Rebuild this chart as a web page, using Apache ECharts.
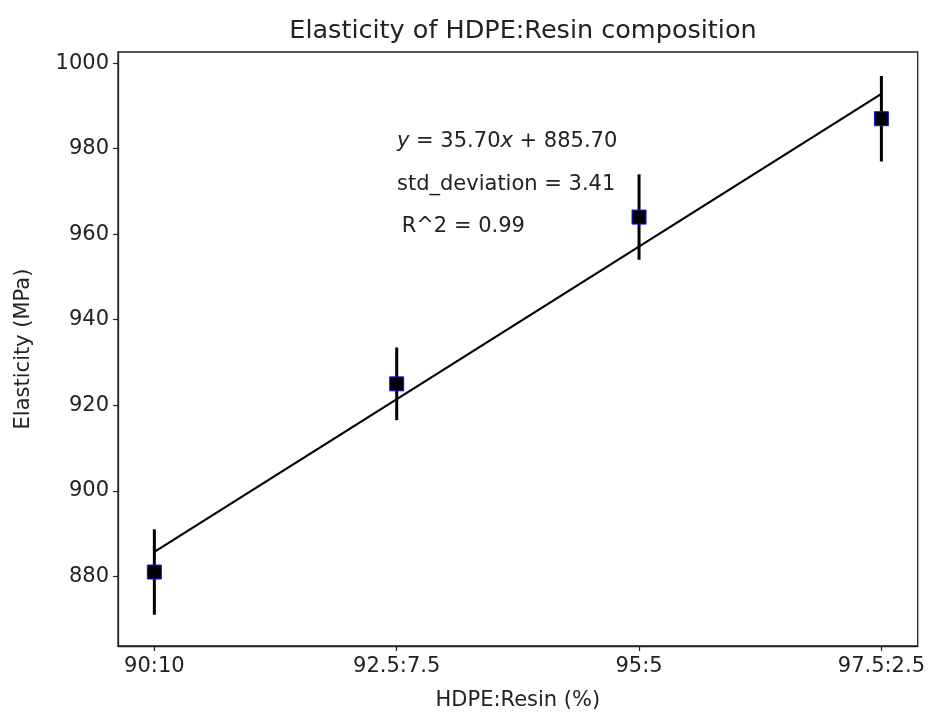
<!DOCTYPE html>
<html>
<head>
<meta charset="utf-8">
<script src="https://cdn.jsdelivr.net/npm/echarts@6/dist/echarts.min.js"></script>
<style>
html,body{margin:0;padding:0;background:#fff;}
#chart{width:928px;height:716px;}
</style>
</head>
<body>
<div id="chart"></div>
<script>
// ---- data ----
const categories = ['90:10', '92.5:7.5', '95:5', '97.5:2.5'];
const elasticity = [881, 925, 964, 987];
const stdErrors = [10, 8.5, 10, 10];
const fitSlope = 35.70;
const fitIntercept = 885.70;
const yTickValues = [880, 900, 920, 940, 960, 980, 1000];
const xTickValues = [0, 1, 2, 3];
const annotations = ['std_deviation = 3.41', ' R^2 = 0.99'];

const FONT = 'DejaVu Sans';
const TXT = '#222';

const pointData = elasticity.map((v, i) => [i, v]);
const errData = elasticity.map((v, i) => [i, v, stdErrors[i]]);
const fitData = [0, categories.length - 1].map(x => [x, fitIntercept + fitSlope * x]);

const chart = echarts.init(document.getElementById('chart'), null, {renderer: 'canvas'});
chart.setOption({
  animation: false,
  backgroundColor: '#fff',
  title: {
    text: 'Elasticity of HDPE:Resin composition',
    left: 518, top: 13, textAlign: 'center',
    textStyle: {fontFamily: FONT, fontSize: 25.5, fontWeight: 'normal', color: TXT}
  },
  grid: {
    left: 118, right: 9, top: 52, bottom: 69,
    show: true, borderColor: '#222', borderWidth: 1.3, backgroundColor: 'transparent'
  },
  xAxis: {
    type: 'value', min: -0.15, max: 3.15,
    name: 'HDPE:Resin (%)', nameLocation: 'middle', nameGap: 44,
    nameTextStyle: {fontFamily: FONT, fontSize: 21, color: TXT},
    axisLine: {show: true, onZero: false, lineStyle: {color: '#222', width: 1.3}},
    axisTick: {show: true, customValues: xTickValues, length: 5, lineStyle: {color: '#222', width: 1.2}},
    axisLabel: {customValues: xTickValues, margin: 10, fontFamily: FONT, fontSize: 21, color: TXT,
      formatter: v => categories[Math.round(v)]},
    splitLine: {show: false}
  },
  yAxis: {
    type: 'value', min: 863.7, max: 1002.6,
    name: 'Elasticity (MPa)', nameLocation: 'middle', nameGap: 84, nameRotate: 90,
    nameTextStyle: {fontFamily: FONT, fontSize: 21, color: TXT},
    axisLine: {show: true, onZero: false, lineStyle: {color: '#222', width: 1.3}},
    axisTick: {show: true, customValues: yTickValues, length: 5, lineStyle: {color: '#222', width: 1.2}},
    axisLabel: {customValues: yTickValues, margin: 9, fontFamily: FONT, fontSize: 21, color: TXT,
      formatter: v => String(v)},
    splitLine: {show: false}
  },
  series: [
    {
      type: 'custom',
      data: errData,
      encode: {x: 0, y: 1},
      z: 2,
      renderItem: function (params, api) {
        const x = api.value(0), y = api.value(1), e = api.value(2);
        const p1 = api.coord([x, y - e]);
        const p2 = api.coord([x, y + e]);
        return {type: 'line', shape: {x1: p1[0], y1: p1[1], x2: p2[0], y2: p2[1]},
          style: {stroke: '#000', lineWidth: 3}};
      }
    },
    {
      type: 'scatter',
      data: pointData,
      symbol: 'rect', symbolSize: 14,
      itemStyle: {color: '#000', borderColor: '#1010ff', borderWidth: 1, opacity: 1},
      z: 3
    },
    {
      type: 'line',
      data: fitData,
      showSymbol: false,
      lineStyle: {color: '#000', width: 2.2},
      z: 4
    }
  ],
  graphic: [
    {type: 'text', left: 397, top: 131, z: 10,
      style: {text: '{i|y} = 35.70{i|x} + 885.70', fontFamily: FONT, fontSize: 21, fill: TXT,
        rich: {i: {fontStyle: 'italic', fontFamily: FONT, fontSize: 21, fill: TXT}}}},
    {type: 'text', left: 397, top: 174, z: 10,
      style: {text: annotations[0], fontFamily: FONT, fontSize: 21, fill: TXT}},
    {type: 'text', left: 395, top: 216, z: 10,
      style: {text: annotations[1], fontFamily: FONT, fontSize: 21, fill: TXT}}
  ]
});
</script>
</body>
</html>
